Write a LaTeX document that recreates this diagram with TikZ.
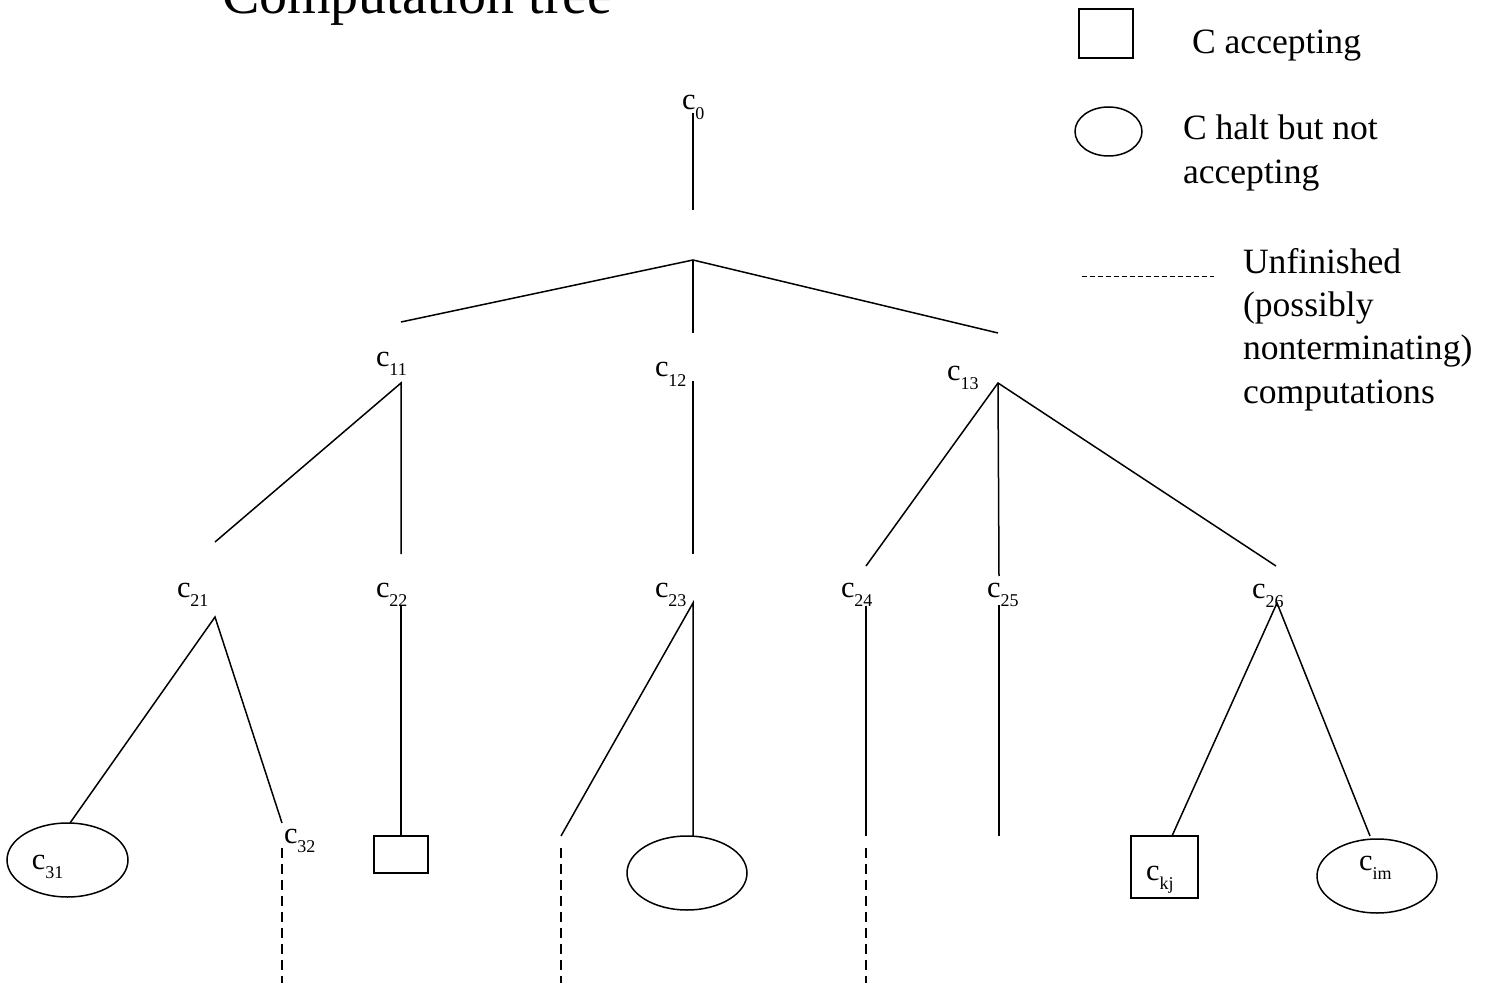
\documentclass[tikz,border=0pt]{standalone}
\usepackage{fontspec}
\setmainfont{Liberation Serif}
\usetikzlibrary{shapes.geometric}
\newcommand{\cl}[1]{{\fontsize{15.2}{16}\selectfont c}\raisebox{-4.6pt}{\fontsize{9}{10}\selectfont #1}}
\newcommand{\lgd}{\fontsize{17.8}{21.5}\selectfont}
\begin{document}
\begin{tikzpicture}[x=0.5pt,y=-0.5pt,line width=0.75pt,
  lbl/.style={anchor=base west,inner sep=0pt,outer sep=0pt},
  halt/.style={draw,ellipse,inner sep=0pt,line width=0.75pt},
  acc/.style={draw,rectangle,inner sep=0pt,line width=0.75pt},
  unf/.style={dash pattern=on 5pt off 3pt,line width=0.75pt},
  edge/.style={line width=0.75pt}]
\useasboundingbox (0,0) rectangle (1495,1000);
% title
\node[lbl] (title) at (222,14) {\fontsize{28}{30}\selectfont Computation tree};
% legend
\node[acc,minimum width=27pt,minimum height=24.5pt] (lsq) at (1106,33.5) {};
\node[lbl] (lt1) at (1192,54) {\lgd C accepting};
\node[halt,minimum width=33.5pt,minimum height=24.5pt] (lel) at (1108.5,131.5) {};
\node[lbl] (lt2) at (1183,140) {\lgd C halt but not};
\node[lbl] (lt3) at (1183,184) {\lgd accepting};
\coordinate (ld1) at (1082,277);
\coordinate (ld2) at (1214,277);
\draw[dash pattern=on 2.5pt off 1.5pt,line width=0.5pt] (ld1) -- (ld2);
\node[lbl] (lt4) at (1243,274) {\lgd Unfinished};
\node[lbl] (lt5) at (1243,317) {\lgd (possibly};
\node[lbl] (lt6) at (1243,360) {\lgd nonterminating)};
\node[lbl] (lt7) at (1243,403) {\lgd computations};
% labels
\node[lbl] (c0) at (682,110) {\cl{0}};
\node[lbl] (c11) at (376,366) {\cl{11}};
\node[lbl] (c12) at (655,377) {\cl{12}};
\node[lbl] (c13) at (947,380) {\cl{13}};
\node[lbl] (c21) at (177,597) {\cl{21}};
\node[lbl] (c22) at (376,597) {\cl{22}};
\node[lbl] (c23) at (655,597) {\cl{23}};
\node[lbl] (c24) at (841,597) {\cl{24}};
\node[lbl] (c25) at (987,597) {\cl{25}};
\node[lbl] (c26) at (1252,598) {\cl{26}};
% leaves
\node[halt,minimum width=60.5pt,minimum height=37pt] (e31) at (67.5,860) {};
\node[lbl] (c31) at (32,869) {\cl{31}};
\node[lbl] (c32) at (284,843) {\cl{32}};
\node[acc,minimum width=27pt,minimum height=18.5pt] (b22) at (401,854.5) {};
\node[halt,minimum width=60pt,minimum height=37pt] (e23) at (687,873) {};
\node[acc,minimum width=33.5pt,minimum height=31pt] (bkj) at (1164.5,867) {};
\node[lbl] (ckj) at (1146,880) {\cl{kj}};
\node[halt,minimum width=60pt,minimum height=37pt] (eim) at (1377,876) {};
\node[lbl] (cim) at (1359,870) {\cl{im}};
% connector points
\coordinate (p0a) at (693,113);
\coordinate (p0b) at (693,210);
\coordinate (br) at (693,260);
\coordinate (q11) at (401,322);
\coordinate (q12) at (693,333);
\coordinate (q13) at (998,333);
\coordinate (a11) at (401,383);
\coordinate (q21) at (215,542);
\coordinate (q22) at (401,554);
\coordinate (a12) at (693,381);
\coordinate (q23) at (693,554);
\coordinate (a13) at (998,383);
\coordinate (q24) at (866,566);
\coordinate (q25) at (999,576);
\coordinate (q26) at (1276,566);
\coordinate (a21) at (215,617);
\coordinate (t31) at (70,823);
\coordinate (t32) at (282,823);
\coordinate (a22) at (401,605);
\coordinate (a23) at (693,603);
\coordinate (t23a) at (561,836);
\coordinate (t23b) at (693,836);
\coordinate (a24) at (866,606);
\coordinate (t24) at (866,836);
\coordinate (a25) at (999,605);
\coordinate (t25) at (999,836);
\coordinate (a26) at (1277,603);
\coordinate (tkj) at (1172,836);
\coordinate (tim) at (1370,836);
\coordinate (d32a) at (282,848);
\coordinate (d32b) at (282,983);
\coordinate (d23a) at (561,848);
\coordinate (d23b) at (561,983);
\coordinate (d24a) at (866,848);
\coordinate (d24b) at (866,983);
% edges
\draw[edge] (p0a) -- (p0b);
\draw[edge] (q11) -- (br) -- (q13);
\draw[edge] (br) -- (q12);
\draw[edge] (q21) -- (a11) -- (q22);
\draw[edge] (a12) -- (q23);
\draw[edge] (q24) -- (a13) -- (q26);
\draw[edge] (a13) -- (q25);
\draw[edge] (t31) -- (a21) -- (t32);
\draw[edge] (a22) -- (b22.north);
\draw[edge] (t23a) -- (a23) -- (t23b);
\draw[edge] (a24) -- (t24);
\draw[edge] (a25) -- (t25);
\draw[edge] (tkj) -- (a26) -- (tim);
\draw[unf] (d32a) -- (d32b);
\draw[unf] (d23a) -- (d23b);
\draw[unf] (d24a) -- (d24b);
\end{tikzpicture}
\end{document}
